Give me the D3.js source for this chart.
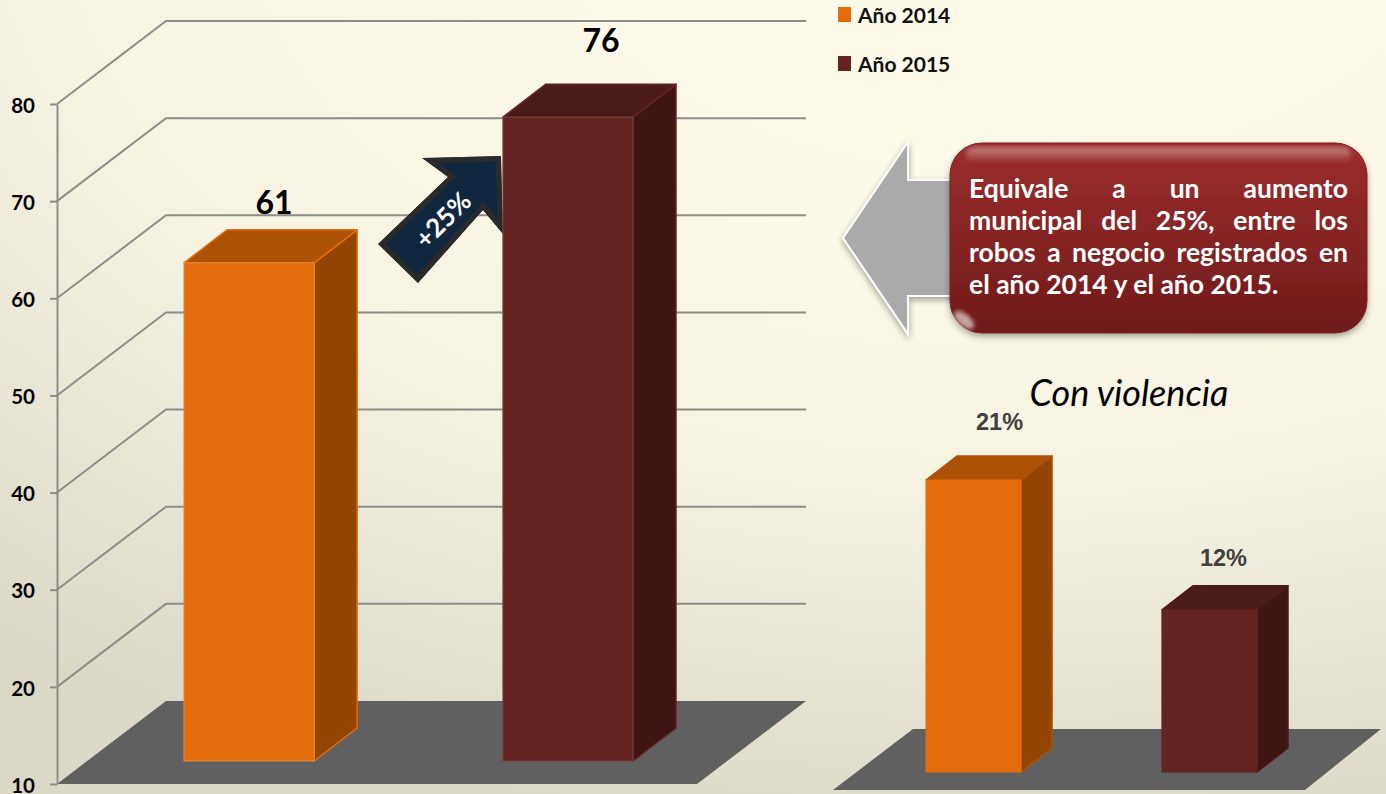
<!DOCTYPE html>
<html>
<head>
<meta charset="utf-8">
<script src="https://cdn.jsdelivr.net/npm/d3@7"></script>
<style>
  html, body { margin: 0; padding: 0; overflow: hidden; }
  svg { display: block; }
  text { font-family: Lato, "Open Sans", sans-serif; }
</style>
</head>
<body>
<svg id="chart" width="1386" height="794"></svg>
<script>
const years = ['Año 2014', 'Año 2015'];
const robos = [61, 76];
const violencia = [21, 12];
const violenciaLabels = ['21%', '12%'];
const yTicks = [10, 20, 30, 40, 50, 60, 70, 80];
const calloutLines = [
  'Equivale a un aumento',
  'municipal del 25%, entre los',
  'robos a negocio registrados en',
  'el año 2014 y el año 2015.'
];

const faces = [
  { front: '#e46c0a', top: '#ac5207', side: '#934504', edge: '#e46c0a' },
  { front: '#632423', top: '#4a1b1a', side: '#3f1514', edge: '#632423' }
];

const svg = d3.select('#chart');
const defs = svg.append('defs');

const bg = defs.append('radialGradient').attr('id', 'bg')
  .attr('gradientUnits', 'userSpaceOnUse')
  .attr('cx', 0).attr('cy', 0).attr('r', 1)
  .attr('gradientTransform', 'translate(1000,-100) scale(1600,950)');
bg.append('stop').attr('offset', 0.25).attr('stop-color', '#fefae9');
bg.append('stop').attr('offset', 0.6).attr('stop-color', '#f6f3e2');
bg.append('stop').attr('offset', 1).attr('stop-color', '#dcd8c7');

const callout = defs.append('linearGradient').attr('id', 'callout')
  .attr('x1', 0).attr('y1', 0).attr('x2', 0).attr('y2', 1);
callout.append('stop').attr('offset', 0).attr('stop-color', '#9c2e2e');
callout.append('stop').attr('offset', 1).attr('stop-color', '#6f1a1a');

const gloss = defs.append('linearGradient').attr('id', 'gloss')
  .attr('x1', 0).attr('y1', 0).attr('x2', 0).attr('y2', 1);
gloss.append('stop').attr('offset', 0).attr('stop-color', '#fff').attr('stop-opacity', 0.4);
gloss.append('stop').attr('offset', 1).attr('stop-color', '#fff').attr('stop-opacity', 0);

const shadow = defs.append('filter').attr('id', 'shadow')
  .attr('x', '-10%').attr('y', '-10%').attr('width', '120%').attr('height', '125%');
shadow.append('feDropShadow').attr('dx', 0).attr('dy', 3).attr('stdDeviation', 3)
  .attr('flood-color', '#000').attr('flood-opacity', 0.35);

const blur = defs.append('filter').attr('id', 'blur');
blur.append('feGaussianBlur').attr('stdDeviation', 2);

svg.append('rect').attr('width', 1386).attr('height', 794).attr('fill', 'url(#bg)');

const line = d3.line();

// draws one box: front, top and side faces
function drawBar(g, x, w, yTop, yBase, dx, dy, c, edgeColor, frontEdge) {
  const edge = sel => sel.attr('stroke', edgeColor).attr('stroke-width', 1.5).attr('stroke-linejoin', 'round');
  g.append('path').call(edge).attr('fill', c.side)
    .attr('d', line([[x + w, yTop], [x + w + dx, yTop + dy], [x + w + dx, yBase + dy], [x + w, yBase]]) + 'Z');
  g.append('path').call(edge).attr('fill', c.top)
    .attr('d', line([[x, yTop], [x + dx, yTop + dy], [x + w + dx, yTop + dy], [x + w, yTop]]) + 'Z');
  g.append('rect').attr('x', x).attr('y', yTop).attr('width', w).attr('height', yBase - yTop)
    .attr('fill', c.front).attr('stroke', frontEdge).attr('stroke-width', 1);
}

/* main chart */
const y = d3.scaleLinear().domain([10, 80]).range([784, 104]);
const x = d3.scaleBand().domain(years).range([184, 633]).paddingInner(0.592);
const wallDx = 109, wallDy = -83, wallRight = 806;
const barDx = 43, barDy = -33, barLift = 25.7, barBase = 761;

const main = svg.append('g');

main.append('path').attr('fill', '#606060')
  .attr('d', line([[57, y(10)], [57 + wallDx, y(10) + wallDy], [wallRight, y(10) + wallDy], [wallRight - wallDx, y(10)]]) + 'Z');

main.selectAll('path.grid').data(yTicks.slice(1)).join('path')
  .attr('class', 'grid')
  .attr('fill', 'none').attr('stroke', '#8c8c8c').attr('stroke-width', 2)
  .attr('d', d => line([[57, y(d)], [57 + wallDx, y(d) + wallDy], [wallRight, y(d) + wallDy]]));

const axis = main.append('g').attr('transform', 'translate(57,0)')
  .call(d3.axisLeft(y).tickValues(yTicks).tickSizeInner(7).tickSizeOuter(0).tickPadding(15));
axis.selectAll('path, line').attr('stroke', '#8c8c8c').attr('stroke-width', 2);
axis.selectAll('text').attr('fill', '#000').attr('dy', '0.4em')
  .style('font-size', '20.5px').style('font-weight', 700)
  .style('font-family', 'Lato, sans-serif');

// first bar goes under the arrow, second one over it
drawBar(main.append('g'), x(years[0]), x.bandwidth(), y(robos[0]) - barLift, barBase, barDx, barDy, faces[0], faces[0].edge, '#e08a45');

const arrowPts = [[378, 244], [448, 177], [422, 158], [501, 156], [503, 234], [483, 210], [418, 283]];
defs.append('clipPath').attr('id', 'arrowClip').append('path').attr('d', line(arrowPts) + 'Z');
main.append('path').attr('d', line(arrowPts) + 'Z')
  .attr('clip-path', 'url(#arrowClip)')
  .attr('fill', '#10263f').attr('stroke', '#2a2a2a').attr('stroke-width', 11).attr('stroke-linejoin', 'miter');
main.append('text').attr('transform', 'translate(443,220) rotate(-45)')
  .attr('text-anchor', 'middle').attr('dy', '.35em')
  .attr('fill', '#fff').style('font-size', '26px').style('font-weight', 700).text('+25%');

drawBar(main.append('g'), x(years[1]), x.bandwidth(), y(robos[1]) - barLift, barBase, barDx, barDy, faces[1], faces[1].edge, '#7a4644');

// the 76 label sits off its bar in the reference
const valNudge = [[25, -49], [33, -65]];
main.selectAll('text.val').data(robos).join('text')
  .attr('class', 'val')
  .attr('x', (d, i) => x(years[i]) + x.bandwidth() / 2 + valNudge[i][0])
  .attr('y', (d, i) => y(d) - barLift + valNudge[i][1])
  .attr('text-anchor', 'middle').attr('fill', '#000')
  .style('font-size', '32px').style('font-weight', 700)
  .text(d => d);

/* legend */
const legend = svg.append('g').selectAll('g').data(years).join('g')
  .attr('transform', (d, i) => `translate(838,${7 + i * 49})`);
legend.append('rect').attr('width', 13).attr('height', 15).attr('fill', (d, i) => faces[i].front);
legend.append('text').attr('x', 20).attr('y', 16).attr('fill', '#111')
  .style('font-size', '21px').style('font-weight', 700).text(d => d);

/* callout */
const grey = svg.append('g');
grey.append('path')
  .attr('d', line([[843, 238], [908, 142], [908, 180], [1000, 180], [1000, 296], [908, 296], [908, 334]]) + 'Z')
  .attr('fill', '#aaaaaa').attr('stroke', '#fff').attr('stroke-width', 2).attr('filter', 'url(#shadow)');

const box = svg.append('g');
box.append('rect').attr('x', 950).attr('y', 143).attr('width', 417).attr('height', 190).attr('rx', 32)
  .attr('fill', 'url(#callout)').attr('stroke', '#7a2020').attr('stroke-width', 1).attr('filter', 'url(#shadow)');
box.append('rect').attr('x', 966).attr('y', 147).attr('width', 385).attr('height', 16).attr('rx', 8)
  .attr('fill', 'url(#gloss)').attr('filter', 'url(#blur)');
box.append('ellipse').attr('cx', 964).attr('cy', 320).attr('rx', 12).attr('ry', 6)
  .attr('transform', 'rotate(40 964 320)').attr('fill', '#fff').attr('fill-opacity', 0.6).attr('filter', 'url(#blur)');

const calloutLeft = 969, calloutWidth = 379;
box.selectAll('text').data(calloutLines).join('text')
  .attr('x', calloutLeft)
  .attr('y', (d, i) => 198 + i * 32)
  .attr('fill', '#fff')
  .style('font-size', '26.5px').style('font-weight', 700)
  .text(d => d)
  .each(function (d, i) {
    // justified text, last line stays flush left
    if (i === calloutLines.length - 1) return;
    const gaps = d.split(' ').length - 1;
    const extra = (calloutWidth - this.getComputedTextLength()) / gaps;
    d3.select(this).style('word-spacing', `${extra}px`);
  });

/* second chart */
const y2 = d3.scaleLinear().domain([0, 21]).range([783, 480]);
const x2 = d3.scaleBand().domain(years).range([926, 1257]).paddingInner(0.597);
const side = svg.append('g');

side.append('path').attr('fill', '#606060')
  .attr('d', line([[833, 790], [913, 729], [1381, 729], [1305, 790]]) + 'Z');

side.selectAll('g').data(violencia).join('g')
  .each(function (d, i) {
    drawBar(d3.select(this), x2(years[i]), x2.bandwidth(), y2(d), 772, 31, -24, faces[i], faces[i].top, faces[i].front);
  });

const pctNudge = [[26, -50], [14, -44]];
side.selectAll('text.pct').data(violencia).join('text')
  .attr('class', 'pct')
  .attr('x', (d, i) => x2(years[i]) + x2.bandwidth() / 2 + pctNudge[i][0])
  .attr('y', (d, i) => y2(d) + pctNudge[i][1])
  .attr('text-anchor', 'middle').attr('fill', '#404040')
  .style('font-family', '"Liberation Sans", sans-serif')
  .style('font-size', '23.5px').style('font-weight', 700)
  .text((d, i) => violenciaLabels[i]);

svg.append('text').attr('x', 1129).attr('y', 406).attr('text-anchor', 'middle').attr('fill', '#000')
  .style('font-size', '36px').style('font-style', 'italic').text('Con violencia');
</script>
</body>
</html>
